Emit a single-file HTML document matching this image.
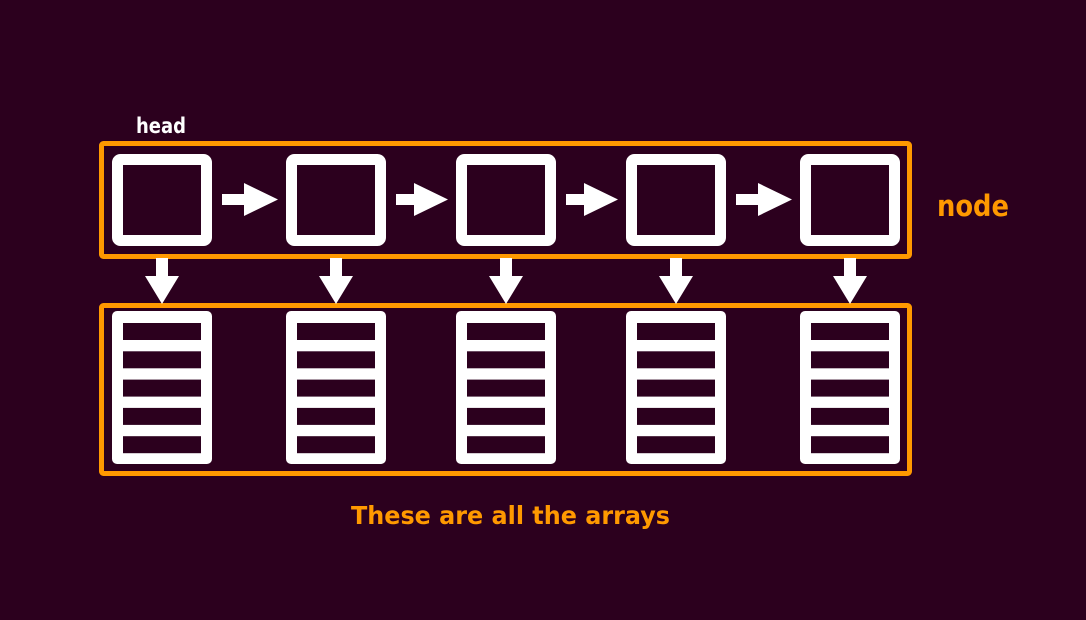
<!DOCTYPE html>
<html><head><meta charset="utf-8"><style>
html,body{margin:0;padding:0;background:#2c001e;}
svg{display:block;}
text{font-family:"DejaVu Sans","Liberation Sans",sans-serif;font-weight:bold;}
</style></head><body>
<svg id="c" width="1086" height="620" viewBox="0 0 1086 620" xmlns="http://www.w3.org/2000/svg">
<rect width="1086" height="620" fill="#2c001e"/>
<rect x="101.5" y="143.5" width="808" height="113" fill="none" stroke="#ff9900" stroke-width="5" rx="2"/>
<rect x="101.5" y="305.5" width="808" height="168" fill="none" stroke="#ff9900" stroke-width="5" rx="2"/>
<text x="136" y="133" font-size="21" fill="#ffffff" textLength="50" lengthAdjust="spacingAndGlyphs">head</text>
<text x="937" y="216" font-size="29" fill="#ff9900" textLength="72" lengthAdjust="spacingAndGlyphs">node</text>
<text x="351" y="524" font-size="25" fill="#ff9900" textLength="319" lengthAdjust="spacingAndGlyphs">These are all the arrays</text>
<g id="g"></g>
</svg>
<script>
const nodeX = [112, 286, 456, 626, 800];
const rowCount = 5;
const g = document.getElementById('g');
const NS = 'http://www.w3.org/2000/svg';
function mk(tag, attrs) {
  const e = document.createElementNS(NS, tag);
  for (const k in attrs) e.setAttribute(k, attrs[k]);
  g.appendChild(e);
  return e;
}
nodeX.forEach((x, i) => {
  const n = mk('rect', {x: x + 5.5, y: 159.5, width: 89, height: 81, rx: 3, fill: 'none', stroke: '#fff', 'stroke-width': 11});
  
  
  const a = mk('rect', {x: x, y: 311, width: 100, height: 153, rx: 5, fill: '#fff'});
  
  
  for (let r = 0; r < rowCount; r++) {
    const c = mk('rect', {x: x + 11, y: 323 + r * 28.3, width: 78, height: 17, fill: '#2c001e'});
    
    
  }
  const cx = x + 50;
  const d = mk('polygon', {points: `${cx-6},258 ${cx+6},258 ${cx+6},276 ${cx+17},276 ${cx},304 ${cx-17},276 ${cx-6},276`, fill: '#fff'});
  
  
  if (i < nodeX.length - 1) {
    const s = x + 110, e = nodeX[i + 1] - 8, h = e - 34;
    const p = mk('polygon', {points: `${s},194 ${h},194 ${h},183 ${e},199.5 ${h},216 ${h},205 ${s},205`, fill: '#fff'});
    
    
  }
});
</script>
</body></html>
